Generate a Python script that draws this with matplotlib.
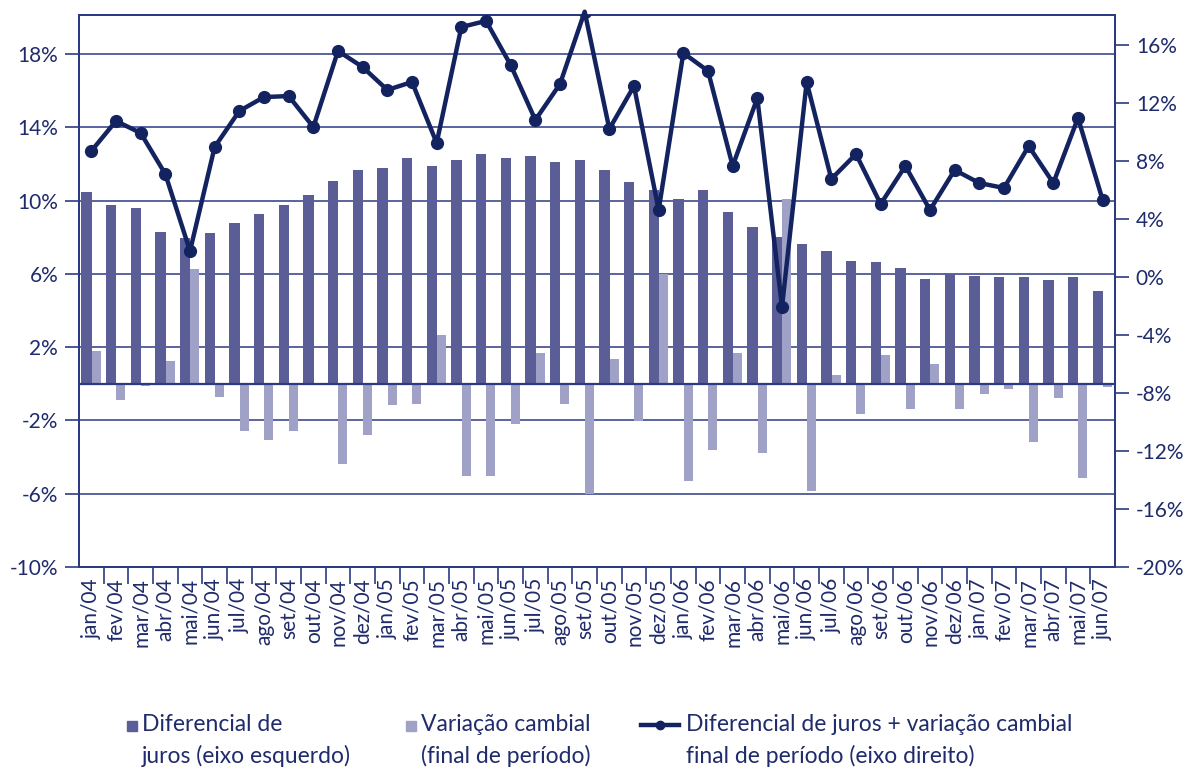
import matplotlib.pyplot as plt
import numpy as np
from matplotlib.lines import Line2D
from matplotlib.patches import Rectangle

plt.rcParams['font.family'] = ['Lato', 'DejaVu Sans']

meses = ['jan/04', 'fev/04', 'mar/04', 'abr/04', 'mai/04', 'jun/04', 'jul/04', 'ago/04', 'set/04',
         'out/04', 'nov/04', 'dez/04', 'jan/05', 'fev/05', 'mar/05', 'abr/05', 'mai/05', 'jun/05',
         'jul/05', 'ago/05', 'set/05', 'out/05', 'nov/05', 'dez/05', 'jan/06', 'fev/06', 'mar/06',
         'abr/06', 'mai/06', 'jun/06', 'jul/06', 'ago/06', 'set/06', 'out/06', 'nov/06', 'dez/06',
         'jan/07', 'fev/07', 'mar/07', 'abr/07', 'mai/07', 'jun/07']

# diferencial de juros (eixo esquerdo)
diferencial = [10.45, 9.74, 9.57, 8.27, 7.94, 8.21, 8.76, 9.25, 9.74, 10.28, 11.05, 11.65,
               11.76, 12.30, 11.87, 12.19, 12.52, 12.30, 12.41, 12.08, 12.19, 11.65, 11.00, 10.60,
               10.07, 10.56, 9.36, 8.54, 7.99, 7.61, 7.23, 6.68, 6.63, 6.30, 5.70, 5.97,
               5.86, 5.81, 5.81, 5.65, 5.81, 5.05]

# variacao cambial, final de periodo (eixo esquerdo)
cambio = [1.77, -0.90, -0.14, 1.23, 6.25, -0.74, -2.59, -3.08, -2.59, -0.08, -4.39, -2.81,
          -1.17, -1.12, 2.65, -5.05, -5.05, -2.21, 1.66, -1.12, -6.03, 1.34, -2.05, 5.97,
          -5.32, -3.63, 1.66, -3.79, 10.07, -5.86, 0.46, -1.66, 1.55, -1.39, 1.06, -1.39,
          -0.57, -0.30, -3.19, -0.79, -5.16, -0.19]

# diferencial + variacao cambial (eixo direito)
total = [8.69, 10.76, 9.93, 7.10, 1.79, 8.97, 11.45, 12.41, 12.48, 10.34, 15.59, 14.48,
         12.90, 13.45, 9.24, 17.24, 17.66, 14.62, 10.83, 13.31, 18.30, 10.21, 13.17, 4.62,
         15.45, 14.21, 7.66, 12.34, -2.07, 13.45, 6.76, 8.48, 5.03, 7.66, 4.62, 7.38,
         6.48, 6.14, 9.03, 6.48, 10.97, 5.31]

c_dark = '#5b5e96'
c_light = '#9fa1c7'
c_line = '#13235f'
c_text = '#1f2b6b'
c_grid = '#2c3a84'

fig = plt.figure(figsize=(11.85, 7.69), dpi=100)
ax = fig.add_axes([79 / 1185, 1 - 567 / 769, (1115 - 79) / 1185, (567 - 15) / 769])
x = np.arange(len(meses))

for v in [-6, -2, 2, 6, 10, 14, 18]:
    ax.axhline(v, color=c_grid, lw=1.1, zorder=0)

ax.bar(x - 0.2, diferencial, width=0.42, color=c_dark, zorder=2)
ax.bar(x + 0.2, cambio, width=0.36, color=c_light, zorder=2)
ax.axhline(0, color=c_grid, lw=1.6, zorder=3)

ax.set_xlim(-0.5, len(meses) - 0.5)
ax.set_ylim(-10, 20.13)
ax.set_yticks([-10, -6, -2, 2, 6, 10, 14, 18])
ax.set_yticklabels(['-10%', '-6%', '-2%', '2%', '6%', '10%', '14%', '18%'])
ax.set_xticks(x)
ax.set_xticklabels(meses, rotation=90)
ax.set_xticks(x[:-1] + 0.5, minor=True)
ax.tick_params(axis='x', which='major', length=0, pad=8, labelsize=15, colors=c_text)
ax.tick_params(axis='x', which='minor', length=12, width=1.2, color=c_grid)
ax.tick_params(axis='y', length=10, width=1.2, color=c_grid, labelcolor=c_text, labelsize=15, pad=5)
for s in ax.spines.values():
    s.set_color(c_grid)
    s.set_linewidth(1.4)

ax2 = ax.twinx()
ax2.plot(x, total, color=c_line, lw=3.2, zorder=4, clip_on=False)
ax2.plot(x, total, ls='none', marker='o', ms=8.5, color=c_line, zorder=5)
ax2.set_ylim(-20, 18.07)
ax2.set_yticks(np.arange(-20, 17, 4))
ax2.set_yticklabels([f'{v}%' for v in range(-20, 17, 4)])
ax2.tick_params(axis='y', length=10, width=1.2, color=c_grid, labelcolor=c_text, labelsize=15, pad=5)
for s in ax2.spines.values():
    s.set_color(c_grid)
    s.set_linewidth(1.4)

# legenda
fs = 16.5
ly = 1 - 714 / 769
fig.add_artist(Rectangle((127 / 1185, 1 - 731 / 769), 10 / 1185, 10 / 769,
                         transform=fig.transFigure, color=c_dark))
fig.text(142 / 1185, ly, 'Diferencial de\njuros (eixo esquerdo)', fontsize=fs,
         color=c_text, va='top', ha='left', linespacing=1.55)
fig.add_artist(Rectangle((406 / 1185, 1 - 731 / 769), 10 / 1185, 10 / 769,
                         transform=fig.transFigure, color=c_light))
fig.text(421 / 1185, ly, 'Variação cambial\n(final de período)', fontsize=fs,
         color=c_text, va='top', ha='left', linespacing=1.55)
fig.add_artist(Line2D([641 / 1185, 679 / 1185], [1 - 725 / 769, 1 - 725 / 769],
                      transform=fig.transFigure, color=c_line, lw=3.2))
fig.add_artist(Line2D([660 / 1185], [1 - 725 / 769], transform=fig.transFigure,
                      color=c_line, marker='o', ms=6, ls='none'))
fig.text(686 / 1185, ly, 'Diferencial de juros + variação cambial\nfinal de período (eixo direito)',
         fontsize=fs, color=c_text, va='top', ha='left', linespacing=1.55)

fig.savefig('out.png', dpi=100)
